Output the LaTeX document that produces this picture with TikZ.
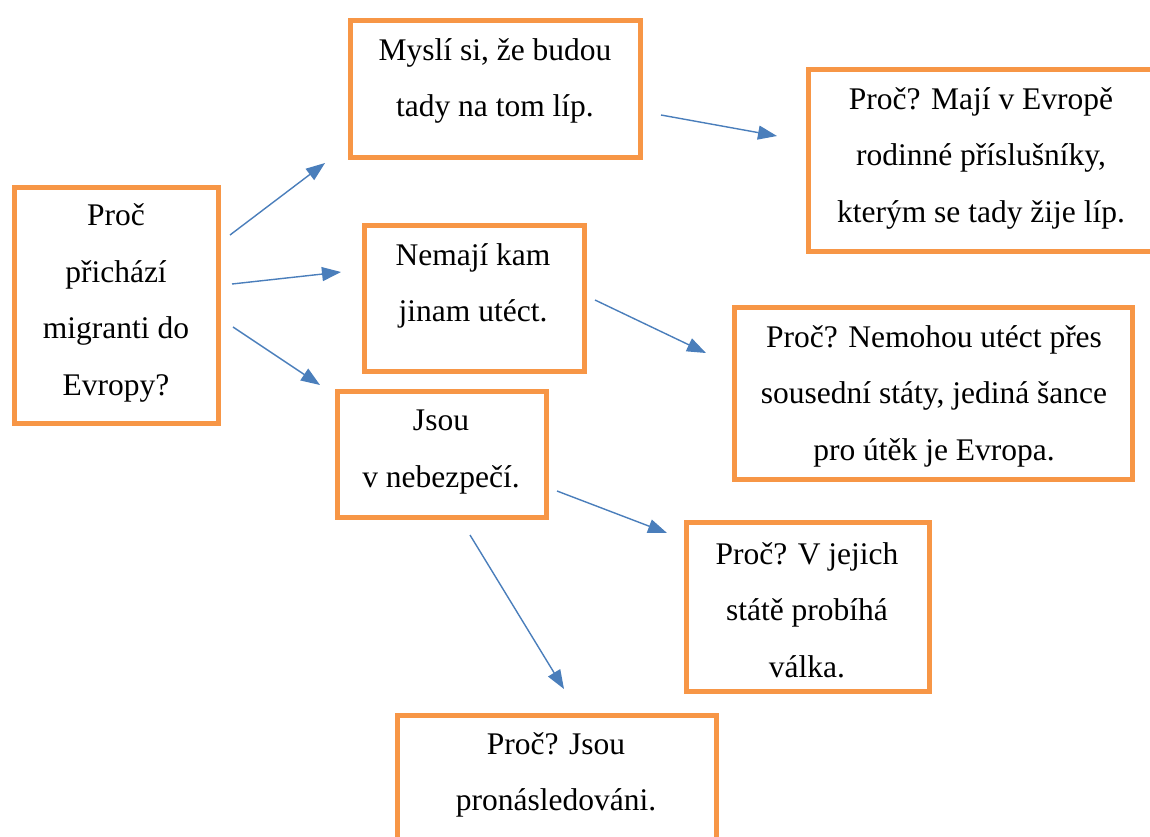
\documentclass[tikz,border=0pt]{standalone}
\usepackage{fontspec}
\setmainfont{Liberation Serif}
\usetikzlibrary{arrows.meta}
\definecolor{boxorange}{HTML}{F79646}
\definecolor{arrowblue}{HTML}{4A7EBB}
\begin{document}
\begin{tikzpicture}[x=1pt,y=-1pt,
  box/.style={draw=boxorange,line width=5pt,inner sep=0pt},
  txt/.style={align=center,font=\fontsize{31.5}{56.5}\selectfont,inner sep=0pt},
  arr/.style={draw=arrowblue,line width=1.4pt,-{Triangle[length=19pt,width=14pt]}}]
\useasboundingbox (0,0) rectangle (1150,836);
\begin{scope}
\clip (0,0) rectangle (1150,836);
% boxes (centerline of border)
\node[box,minimum width=204pt,minimum height=236pt] (b1) at (116.5,305) {};
\node[box,minimum width=290pt,minimum height=137pt] (b2) at (495,88.5) {};
\node[box,minimum width=360pt,minimum height=182pt] (b3) at (988,160) {};
\node[box,minimum width=220pt,minimum height=146pt] (b4) at (474,298) {};
\node[box,minimum width=398pt,minimum height=172pt] (b5) at (933,393) {};
\node[box,minimum width=209pt,minimum height=126pt] (b6) at (441.5,454) {};
\node[box,minimum width=243pt,minimum height=169pt] (b7) at (807.5,606.5) {};
\node[box,minimum width=319pt,minimum height=160pt] (b8) at (556.5,795) {};
\end{scope}
% texts
\node[txt] (t1) at (116,303) {Proč\\přichází\\migranti do\\Evropy?};
\node[txt] (t2) at (495,81) {Myslí si, že budou\\tady na tom líp.};
\node[txt] (t3) at (981,158) {Proč? Mají v Evropě\\rodinné příslušníky,\\kterým se tady žije líp.};
\node[txt] (t4) at (473,286) {Nemají kam\\jinam utéct.};
\node[txt] (t5) at (934,396) {Proč? Nemohou utéct přes\\sousední státy, jediná šance\\pro útěk je Evropa.};
\node[txt] (t6) at (441,452) {Jsou\\v nebezpečí.};
\node[txt] (t7) at (807,610) {Proč? V jejich\\státě probíhá\\válka.};
\node[txt] (t8) at (556,775) {Proč? Jsou\\pronásledováni.};
% arrow end points
\coordinate (a1s) at (230,235); \coordinate (a1e) at (325,163);
\coordinate (a2s) at (232,284); \coordinate (a2e) at (341,272);
\coordinate (a3s) at (233,327); \coordinate (a3e) at (320,385);
\coordinate (a4s) at (661,115); \coordinate (a4e) at (777,136);
\coordinate (a5s) at (595,300); \coordinate (a5e) at (706,353);
\coordinate (a6s) at (557,491); \coordinate (a6e) at (667,533);
\coordinate (a7s) at (470,535); \coordinate (a7e) at (564,689);
\draw[arr] (a1s) -- (a1e);
\draw[arr] (a2s) -- (a2e);
\draw[arr] (a3s) -- (a3e);
\draw[arr] (a4s) -- (a4e);
\draw[arr] (a5s) -- (a5e);
\draw[arr] (a6s) -- (a6e);
\draw[arr] (a7s) -- (a7e);
\end{tikzpicture}
\end{document}
